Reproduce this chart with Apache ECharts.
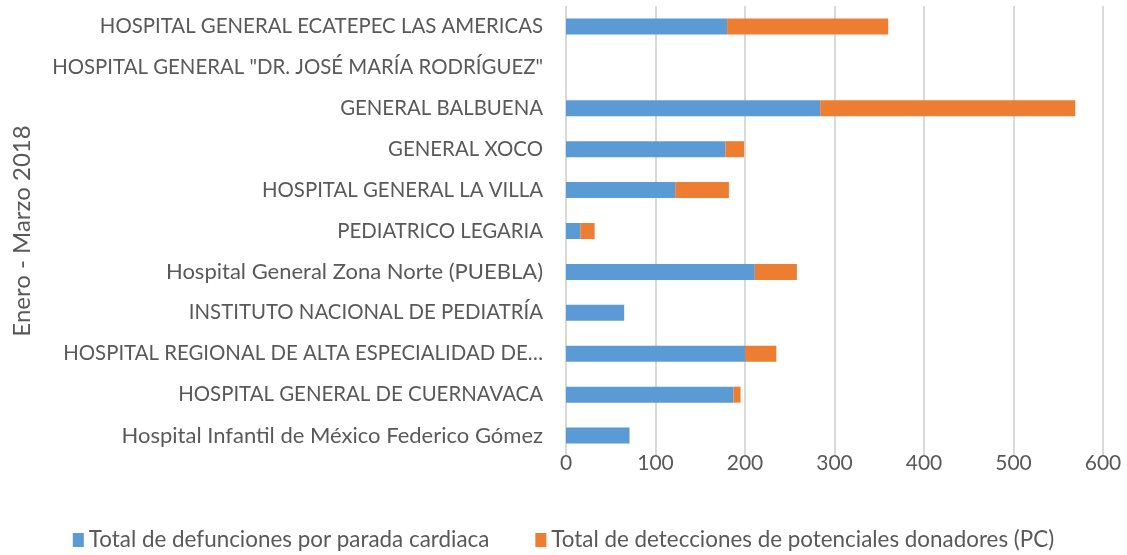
<!DOCTYPE html>
<html>
<head>
<meta charset="utf-8">
<script src="https://cdn.jsdelivr.net/npm/echarts@6/dist/echarts.min.js"></script>
<style>
html,body{margin:0;padding:0;background:#fff;}
#chart{width:1127px;height:555px;}
</style>
</head>
<body>
<div id="chart"></div>
<script>
var categories = [
	'HOSPITAL GENERAL ECATEPEC LAS AMERICAS',
	'HOSPITAL GENERAL "DR. JOSÉ MARÍA RODRÍGUEZ"',
	'GENERAL BALBUENA',
	'GENERAL XOCO',
	'HOSPITAL GENERAL LA VILLA',
	'PEDIATRICO LEGARIA',
	'Hospital General Zona Norte (PUEBLA)',
	'INSTITUTO NACIONAL DE PEDIATRÍA',
	'HOSPITAL REGIONAL DE ALTA ESPECIALIDAD DE…',
	'HOSPITAL GENERAL DE CUERNAVACA',
	'Hospital Infantil de México Federico Gómez'
];
var defunciones = [180, 0, 284, 178, 122, 16, 211, 65, 200, 187, 71];
var detecciones = [180, 0, 285, 21, 60, 16, 47, 0, 35, 8, 0];
var seriesNames = ['Total de defunciones por parada cardiaca', 'Total de detecciones de potenciales donadores (PC)'];

var font = 'Lato';
var txt = '#595959';

var myChart = echarts.init(document.getElementById('chart'));
var option = {
	animation: false,
	textStyle: { fontFamily: font },
	color: ['#5b9bd5', '#ed7d31'],
	grid: { left: 566, right: 24, top: 6, bottom: 99, containLabel: false },
	legend: {
		top: 524,
		left: 'center',
		itemWidth: 11,
		itemHeight: 14,
		itemGap: 46,
		icon: 'rect',
		textStyle: { color: txt, fontSize: 22.4, fontFamily: font },
		data: seriesNames
	},
	xAxis: {
		type: 'value',
		min: 0,
		max: 600,
		interval: 100,
		axisLine: { show: false },
		axisTick: { show: false },
		axisLabel: { color: txt, fontSize: 21, margin: -3 },
		splitLine: { lineStyle: { color: '#d9d9d9', width: 2 } }
	},
	yAxis: {
		type: 'category',
		inverse: true,
		data: categories,
		name: 'Enero - Marzo 2018',
		nameLocation: 'middle',
		nameRotate: 90,
		nameGap: 532,
		nameTextStyle: { color: txt, fontSize: 24 },
		axisLine: { show: false },
		axisTick: { show: false },
		axisLabel: {
			color: txt,
			margin: 23,
			formatter: function (v) {
				// uppercase labels are set a bit smaller so widths follow the original
				return /[a-z]/.test(v) ? '{m|' + v + '}' : '{u|' + v + '}';
			},
			rich: {
				u: { fontSize: 20.4, color: txt, fontFamily: font },
				m: { fontSize: 22, color: txt, fontFamily: font }
			}
		}
	},
	series: [{
		name: seriesNames[0],
		type: 'bar',
		stack: 'total',
		barWidth: 16,
		data: defunciones
	}, {
		name: seriesNames[1],
		type: 'bar',
		stack: 'total',
		barWidth: 16,
		data: detecciones
	}]
};
myChart.setOption(option);
</script>
</body>
</html>
